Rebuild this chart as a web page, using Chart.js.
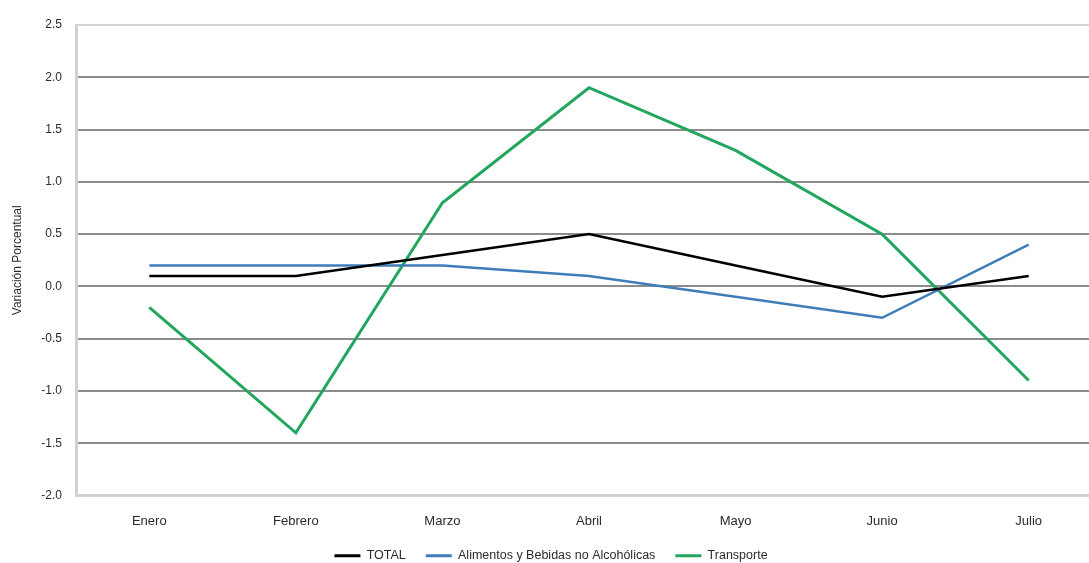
<!DOCTYPE html>
<html>
<head>
<meta charset="utf-8">
<script src="https://cdn.jsdelivr.net/npm/chart.js@4/dist/chart.umd.min.js"></script>
<style>
  html, body { margin: 0; padding: 0; background: #fff; overflow: hidden; }
  #wrap { position: relative; width: 1102px; height: 572px; }
</style>
</head>
<body>
<div id="wrap"><canvas id="c"></canvas></div>
<script>
// Monthly percentage variation by group
const months = ['Enero', 'Febrero', 'Marzo', 'Abril', 'Mayo', 'Junio', 'Julio'];
const total = [0.1, 0.1, 0.3, 0.5, 0.2, -0.1, 0.1];
const alimentos = [0.2, 0.2, 0.2, 0.1, -0.1, -0.3, 0.4];
const transporte = [-0.2, -1.4, 0.8, 1.9, 1.3, 0.5, -0.9];
const yTicks = [-2.0, -1.5, -1.0, -0.5, 0.0, 0.5, 1.0, 1.5, 2.0, 2.5];

const FONT = "'Liberation Sans', Arial, sans-serif";
const textColor = '#2b2b2b';

new Chart(document.getElementById('c'), {
  type: 'line',
  data: {
    labels: months,
    datasets: [
      { label: 'TOTAL', data: total, borderColor: '#000000', backgroundColor: '#000000', borderWidth: 2.5 },
      { label: 'Alimentos y Bebidas no Alcohólicas', data: alimentos, borderColor: '#3f7cba', backgroundColor: '#3f7cba', borderWidth: 2.5 },
      { label: 'Transporte', data: transporte, borderColor: '#22a65e', backgroundColor: '#22a65e', borderWidth: 3 }
    ]
  },
  options: {
    responsive: true,
    maintainAspectRatio: false,
    animation: false,
    layout: { padding: { top: 25, right: 0, bottom: 0, left: 0 } },
    elements: { point: { radius: 0 }, line: { tension: 0 } },
    plugins: {
      legend: {
        position: 'bottom',
        labels: {
          font: { family: FONT, size: 12.5 },
          color: textColor,
          boxWidth: 26,
          boxHeight: 3,
          padding: 20,
          generateLabels(chart) {
            return chart.data.datasets.map((ds, i) => ({
              text: ds.label,
              fillStyle: ds.borderColor,
              strokeStyle: ds.borderColor,
              lineWidth: 0,
              datasetIndex: i,
              fontColor: textColor
            }));
          }
        }
      },
      tooltip: { enabled: false }
    },
    scales: {
      x: {
        offset: true,
        grid: { display: false, drawTicks: false },
        border: { display: true, color: '#d2d2d2', width: 3 },
        ticks: { font: { family: FONT, size: 13 }, color: textColor, padding: 18 },
        afterFit(scale) { scale.height = 34; }
      },
      y: {
        min: -2.0,
        max: 2.5,
        afterBuildTicks(scale) { scale.ticks = yTicks.map(v => ({ value: v })); },
        grid: {
          drawTicks: false,
          lineWidth: 2,
          color: ctx => (ctx.tick && (ctx.tick.value === 2.5 || ctx.tick.value === -2.0)) ? '#d4d4d4' : '#8c8c8c'
        },
        border: { display: true, color: '#d2d2d2', width: 3 },
        ticks: {
          font: { family: FONT, size: 12 },
          color: textColor,
          padding: 14,
          callback: v => Number(v).toFixed(1)
        },
        title: {
          display: true,
          text: 'Variación Porcentual',
          font: { family: FONT, size: 12 },
          color: textColor,
          padding: { top: 10, bottom: 0 }
        },
        afterFit(scale) { scale.width = 76; }
      }
    }
  }
});
</script>
</body>
</html>
